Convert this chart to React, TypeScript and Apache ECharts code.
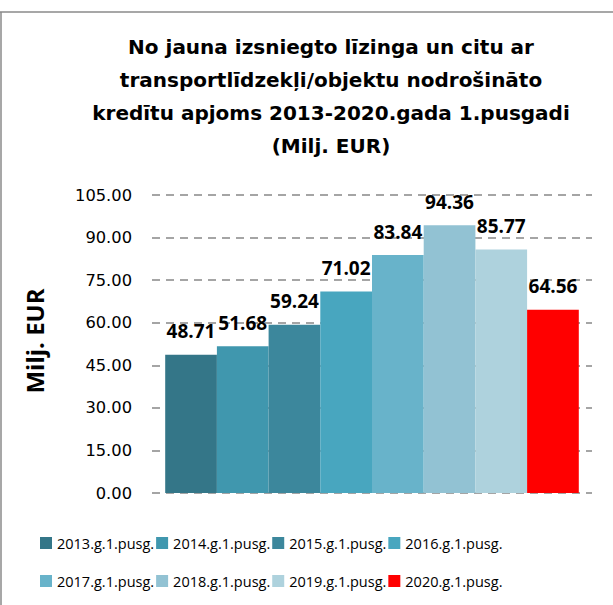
import React, { useEffect, useRef } from "react";
import * as echarts from "echarts";

const seriesNames = [
  "2013.g.1.pusg.",
  "2014.g.1.pusg.",
  "2015.g.1.pusg.",
  "2016.g.1.pusg.",
  "2017.g.1.pusg.",
  "2018.g.1.pusg.",
  "2019.g.1.pusg.",
  "2020.g.1.pusg.",
];
const values = [48.71, 51.68, 59.24, 71.02, 83.84, 94.36, 85.77, 64.56];
const colors = ["#347688", "#4097AE", "#3C879C", "#48A6BF", "#68B3CA", "#92C2D3", "#AED2DD", "#FF0000"];
const titleText =
  "No jauna izsniegto līzinga un citu ar\ntransportlīdzekļi/objektu nodrošināto\nkredītu apjoms 2013-2020.gada 1.pusgadi\n(Milj. EUR)";
const yAxisName = "Milj. EUR";

const FONT = "'Open Sans', 'Noto Sans', sans-serif";
const WIDE = "'DejaVu Sans', 'Open Sans', sans-serif";

export default function App() {
  const ref = useRef<HTMLDivElement>(null);
  useEffect(() => {
    document.body.style.margin = "0";
    const chart = echarts.init(ref.current!, null, { renderer: "svg" });
    const legendStyle = { fontSize: 14.5, color: "#000", fontFamily: FONT, width: 96, lineHeight: 20 };
    chart.setOption({
      animation: false,
      backgroundColor: "#fff",
      title: {
        text: titleText,
        left: 326,
        top: 25,
        padding: 5,
        textAlign: "center",
        textStyle: { fontSize: 20, fontWeight: "bold", color: "#000", fontFamily: WIDE, lineHeight: 33 },
      },
      graphic: [
        { type: "line", shape: { x1: 0, y1: 12, x2: 613, y2: 12 }, style: { stroke: "#8a8a8a", lineWidth: 1.5 } },
        { type: "line", shape: { x1: 1, y1: 12, x2: 1, y2: 605 }, style: { stroke: "#8a8a8a", lineWidth: 1.5 } },
        {
          type: "text",
          x: 34,
          y: 341,
          rotation: Math.PI / 2,
          style: {
            text: yAxisName,
            fontSize: 24,
            fontWeight: "bold",
            fill: "#000",
            fontFamily: FONT,
            align: "center",
            verticalAlign: "middle",
          },
        },
      ],
      legend: [
        {
          data: seriesNames.slice(0, 4),
          left: 40,
          top: 533,
          padding: 0,
          itemWidth: 12,
          itemHeight: 12,
          itemGap: 2,
          icon: "rect",
          textStyle: legendStyle,
        },
        {
          data: seriesNames.slice(4),
          left: 40,
          top: 571,
          padding: 0,
          itemWidth: 12,
          itemHeight: 12,
          itemGap: 2,
          icon: "rect",
          textStyle: legendStyle,
        },
      ],
      grid: { left: 152, right: 21, top: 195, bottom: 112, containLabel: false },
      xAxis: {
        type: "category",
        data: [""],
        axisLine: { show: false },
        axisTick: { show: false },
        axisLabel: { show: false },
      },
      yAxis: {
        type: "value",
        min: 0,
        max: 105,
        interval: 15,
        axisLine: { show: false },
        axisTick: { show: false },
        axisLabel: {
          formatter: (v: number) => v.toFixed(2),
          fontSize: 16.3,
          color: "#000",
          fontFamily: WIDE,
          margin: 20,
        },
        splitLine: { lineStyle: { type: [8, 6], color: "#888", width: 1.5 } },
      },
      series: seriesNames.map((name, i) => ({
        name,
        type: "bar",
        data: [values[i]],
        barGap: "0%",
        barCategoryGap: "6%",
        itemStyle: { color: colors[i] },
        label: {
          show: true,
          position: "top",
          distance: 14,
          formatter: (p: any) => Number(p.value).toFixed(2),
          fontSize: 19,
          fontWeight: "bold",
          color: "#000",
          fontFamily: FONT,
        },
      })),
    });
    return () => chart.dispose();
  }, []);
  return <div ref={ref} style={{ width: 613, height: 605 }} />;
}
